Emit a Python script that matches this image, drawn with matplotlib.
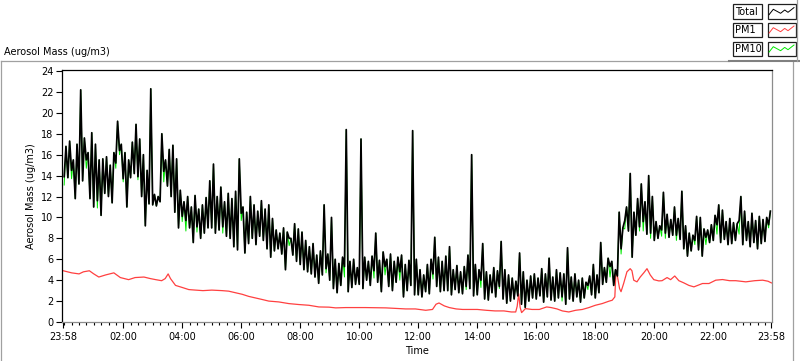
import matplotlib.pyplot as plt
import numpy as np
from matplotlib.lines import Line2D
from matplotlib.patches import Rectangle

# Total: peak / trough read per 7.5 min bin, starting 23:58 (one row per hour)
total_hi = [
    16.8, 17.3, 15.5, 17.0, 22.2, 17.6, 16.2, 18.1,
    17.0, 15.5, 15.6, 15.8, 15.0, 16.2, 19.2, 17.0,
    16.2, 15.5, 17.2, 18.9, 17.5, 16.0, 14.5, 22.3,
    12.2, 12.0, 18.0, 15.5, 16.5, 16.9, 15.6, 12.6,
    11.5, 12.0, 11.0, 12.1, 10.8, 11.2, 11.9, 13.5,
    15.1, 12.0, 12.9, 11.5, 12.3, 11.8, 12.5, 15.6,
    11.0, 10.5, 12.0, 11.2, 10.6, 11.6, 10.8, 11.2,
    9.9, 8.8, 8.5, 9.0, 8.6, 8.0, 9.4, 8.9,
    8.6, 7.8, 7.2, 7.5, 6.4, 6.8, 11.2, 6.5,
    10.0, 6.0, 5.6, 6.2, 18.4, 5.8, 6.0, 5.2,
    17.5, 6.2, 5.8, 6.3, 8.5, 5.9, 6.7, 6.0,
    6.5, 5.8, 6.2, 6.4, 5.5, 5.9, 18.3, 6.0,
    5.0, 4.5, 5.5, 6.0, 8.1, 6.2, 5.8, 6.3,
    7.2, 5.0, 5.4, 4.8, 5.3, 6.4, 16.0, 5.5,
    5.0, 7.5, 4.8, 4.5, 5.2, 4.9, 7.7, 5.0,
    4.5, 4.2, 3.9, 6.6, 4.8, 4.0, 4.4, 4.6,
    4.2, 5.1, 4.6, 6.1, 4.3, 5.0, 4.7, 4.6,
    7.1, 4.3, 4.6, 4.0, 4.2, 3.8, 4.4, 5.5,
    4.5, 7.6, 5.2, 6.1, 5.8, 5.0, 10.5, 9.0,
    11.0, 14.2, 10.5, 11.8, 13.2, 11.5, 14.0, 12.0,
    9.6, 9.2, 12.4, 10.3, 9.8, 11.0, 9.9, 12.5,
    9.2, 8.5, 8.3, 10.1, 10.0, 8.9, 8.8, 9.3,
    10.2, 11.2, 10.7, 9.6, 9.9, 9.5, 9.4, 12.0,
    10.6, 9.6, 10.4, 9.7, 10.1, 9.8, 10.0, 10.6,
]
total_lo = [
    13.9, 13.8, 14.5, 11.8, 13.2, 13.5, 15.5, 11.8,
    11.0, 11.6, 10.2, 12.3, 12.0, 11.4, 15.2, 16.4,
    13.7, 11.0, 13.8, 14.2, 13.9, 12.0, 9.2, 11.3,
    11.2, 11.1, 11.5, 14.4, 13.0, 12.0, 10.5, 9.0,
    10.1, 9.7, 9.0, 7.6, 9.1, 8.0, 8.5, 9.0,
    9.0, 8.5, 8.8, 9.1, 8.2, 8.0, 7.2, 6.9,
    10.4, 6.6, 7.5, 8.0, 7.4, 8.2, 7.8, 7.0,
    6.2, 6.8, 7.0, 6.5, 5.0, 8.0, 6.4, 5.8,
    5.5, 5.0, 4.8, 4.6, 4.3, 3.7, 4.5, 5.1,
    4.0, 3.2, 2.8, 3.5, 5.3, 2.9, 3.3, 3.6,
    3.6, 3.2, 4.0, 3.5, 4.9, 3.8, 2.9, 5.3,
    3.4, 3.0, 3.8, 4.8, 2.4, 3.0, 3.5, 2.6,
    2.6, 2.4, 2.9, 2.7, 4.6, 3.4, 2.9, 3.0,
    3.0, 2.6, 3.1, 2.8, 2.7, 3.4, 3.2, 2.5,
    2.6, 4.0, 2.2, 2.1, 2.8, 2.4, 3.4, 2.2,
    1.8, 2.0, 2.2, 2.5, 1.7, 1.4, 2.0, 2.3,
    2.2, 2.5, 1.9, 2.4, 2.1, 2.0, 2.3, 2.4,
    1.7, 2.2, 2.0, 2.4, 1.9, 2.3, 3.5, 2.6,
    2.3, 2.8, 3.6, 3.8, 5.3, 3.5, 4.4, 7.0,
    9.7, 8.7, 6.2, 8.3, 9.1, 9.6, 8.4, 8.5,
    7.8, 8.0, 8.8, 8.5, 8.1, 8.3, 8.3, 7.9,
    7.0, 6.3, 6.8, 7.8, 6.9, 6.3, 8.1, 7.6,
    7.8, 9.3, 7.6, 7.9, 7.4, 7.5, 7.8, 9.7,
    7.4, 7.8, 7.2, 7.6, 7.0, 7.5, 7.7, 9.3,
]
# PM10 follows Total except where it dips lower (bin index: trough)
pm10_dips = {0: 13.1, 2: 13.7, 6: 14.7, 9: 10.9, 14: 14.7, 15: 16.0, 16: 13.4,
             20: 13.6, 27: 13.4, 32: 9.6, 33: 8.7, 36: 8.6, 43: 8.5, 48: 9.7,
             61: 7.3, 71: 4.7, 76: 4.3, 84: 4.2, 87: 4.5, 91: 4.0, 100: 4.1,
             109: 3.1, 113: 3.3, 118: 3.2, 135: 2.0, 142: 3.1, 148: 4.3, 151: 6.5,
             152: 8.9, 156: 8.7, 157: 8.7, 159: 8.0, 162: 8.2, 163: 8.0, 166: 7.8,
             171: 7.4, 174: 7.4, 177: 8.4, 183: 8.4, 191: 9.0}

pm1_hours = [-0.033, 0.25, 0.5, 0.65, 0.85, 1.0, 1.17, 1.4, 1.68, 1.9, 2.18, 2.4,
             2.7, 2.92, 3.1, 3.3, 3.42, 3.52, 3.6, 3.77, 4.0, 4.22, 4.45, 4.7,
             5.0, 5.35, 5.57, 5.8, 6.03, 6.25, 6.48, 6.71, 6.93, 7.27, 7.61, 7.95,
             8.29, 8.63, 8.97, 9.2, 9.54, 9.88, 10.2, 10.9, 11.57, 11.9, 12.25,
             12.48, 12.6, 12.7, 12.88, 13.05, 13.28, 13.5, 14.0, 14.3, 14.6, 14.9,
             15.15, 15.3, 15.35, 15.4, 15.45, 15.5, 15.63, 15.85, 16.1, 16.35,
             16.5, 16.7, 16.88, 17.1, 17.33, 17.56, 17.78, 18.0, 18.23, 18.46,
             18.57, 18.66, 18.7, 18.74, 18.82, 18.87, 18.96, 19.07, 19.18, 19.24,
             19.3, 19.41, 19.52, 19.64, 19.75, 19.86, 19.98, 20.15, 20.26, 20.43,
             20.55, 20.69, 20.83, 21.0, 21.17, 21.34, 21.63, 21.85, 22.08, 22.31,
             22.55, 22.76, 23.1, 23.4, 23.67, 23.85, 23.967]
pm1_values = [4.9, 4.7, 4.6, 4.8, 4.9, 4.6, 4.3, 4.5, 4.7, 4.25, 4.05, 4.25,
              4.3, 4.15, 4.05, 3.95, 4.15, 4.6, 4.15, 3.5, 3.3, 3.1, 3.05, 3.0,
              3.05, 3.0, 2.95, 2.8, 2.65, 2.45, 2.3, 2.15, 2.0, 1.92, 1.76, 1.67,
              1.6, 1.44, 1.42, 1.35, 1.38, 1.38, 1.38, 1.35, 1.25, 1.25, 1.12,
              1.2, 1.7, 1.82, 1.54, 1.38, 1.25, 1.2, 1.2, 1.12, 1.06, 1.06,
              0.96, 0.96, 1.5, 2.7, 1.4, 0.9, 1.28, 1.2, 1.2, 1.44,
              1.38, 1.25, 1.06, 0.96, 1.12, 1.2, 1.38, 1.6, 1.76, 1.99,
              2.08, 2.4, 4.95, 4.5, 3.2, 2.9, 3.7, 4.8, 5.1, 4.9,
              4.0, 3.84, 4.3, 4.7, 5.1, 4.5, 4.05, 3.93, 3.95, 4.25,
              4.05, 4.4, 3.95, 3.74, 3.5, 3.36, 3.68, 3.68, 4.0, 4.06,
              3.95, 3.95, 3.84, 3.95, 4.0, 3.9, 3.74]

tick_hours = [-2 / 60, 2, 4, 6, 8, 10, 12, 14, 16, 18, 20, 22, 24 - 2 / 60]
tick_labels = ['23:58', '02:00', '04:00', '06:00', '08:00', '10:00', '12:00',
               '14:00', '16:00', '18:00', '20:00', '22:00', '23:58']
legend_names = ['Total', 'PM1', 'PM10']
colors = {'Total': '#000000', 'PM1': '#ff4040', 'PM10': '#00e800'}

W, H = 800, 361
plt.rcParams['font.family'] = 'DejaVu Sans'
fig = plt.figure(figsize=(W / 100, H / 100), dpi=100)
ax = fig.add_axes([62 / W, 1 - 322 / H, (772 - 62) / W, (322 - 70) / H])

# build zig-zag series from bin troughs/peaks
t0 = -2 / 60
bins = t0 + 0.125 * np.arange(len(total_hi))
t_series = np.column_stack((bins + 0.03, bins + 0.09)).ravel()
pm10_lo = list(total_lo)
for k, v in pm10_dips.items():
    pm10_lo[k] = v
y_total = np.column_stack((total_lo, total_hi)).ravel()
y_pm10 = np.column_stack((pm10_lo, total_hi)).ravel()

ax.plot(t_series, y_pm10, color=colors['PM10'], lw=0.7)
ax.plot(pm1_hours, pm1_values, color=colors['PM1'], lw=0.9)
ax.plot(t_series, y_total, color=colors['Total'], lw=1.25)

ax.set_xlim(t0 - 0.044, 24 - 2 / 60 + 0.02)
ax.set_ylim(0, 24.1)
ax.set_yticks(range(0, 25, 2))
ax.set_xticks(tick_hours, tick_labels)
ax.set_xticks([m / 4 for m in range(96) if m % 8 != 0 or m == 0], minor=True)
ax.tick_params(axis='both', which='major', direction='out', length=4.3,
               width=0.8, labelsize=7, pad=2)
ax.tick_params(axis='x', which='minor', direction='out', length=2.2, width=0.8)
ax.tick_params(axis='x', which='major', pad=3)

for side in ['top', 'left']:
    ax.spines[side].set_color('#000000')
    ax.spines[side].set_linewidth(0.9)
for side in ['right', 'bottom']:
    ax.spines[side].set_color('#8c8c8c')
    ax.spines[side].set_linewidth(0.9)

ax.set_ylabel('Aerosol Mass (ug/m3)', fontsize=7)
ax.yaxis.set_label_coords(-0.036, 0.5)
ax.set_xlabel('Time', fontsize=7)
ax.xaxis.set_label_coords(0.5, -0.095)

fig.text(4 / W, 1 - 52 / H, 'Aerosol Mass (ug/m3)', fontsize=7,
         ha='left', va='center')


def fx(x):
    return x / W


def fy(y):
    return 1 - y / H


# panel frame lines
frame = '#a0a0a0'
fig.add_artist(Line2D([fx(1), fx(729)], [fy(61), fy(61)], color=frame, lw=0.9))
fig.add_artist(Line2D([fx(1), fx(1)], [fy(61), fy(361)], color=frame, lw=0.9))
fig.add_artist(Line2D([fx(793), fx(793)], [fy(61), fy(361)], color=frame, lw=0.9))
fig.add_artist(Line2D([fx(729), fx(800)], [fy(60.5), fy(60.5)], color='#808080', lw=1.5))
fig.add_artist(Line2D([fx(797), fx(797)], [fy(0), fy(61)], color=frame, lw=0.9))

# legend
row_tops = [4.3, 22.7, 41.7]
zig = [(1.4, 10.3), (5.6, 5.0), (12.9, 9.0), (17.0, 5.7), (20.3, 8.0), (26.3, 3.3)]
for name, top in zip(legend_names, row_tops):
    fig.add_artist(Rectangle((fx(733), fy(top + 14.7)), 29 / W, 14.7 / H,
                             transform=fig.transFigure, facecolor='white',
                             edgecolor='#202020', lw=0.9))
    fig.text(fx(735), fy(top + 7.6), name, fontsize=7, ha='left', va='center')
    fig.add_artist(Rectangle((fx(767.7), fy(top + 14.7)), 28.3 / W, 14.7 / H,
                             transform=fig.transFigure, facecolor='white',
                             edgecolor='#202020', lw=0.9))
    fig.add_artist(Line2D([fx(767.7 + dx) for dx, dy in zig],
                          [fy(top + dy) for dx, dy in zig],
                          color=colors[name], lw=0.7))

fig.savefig('out.png', dpi=100)
